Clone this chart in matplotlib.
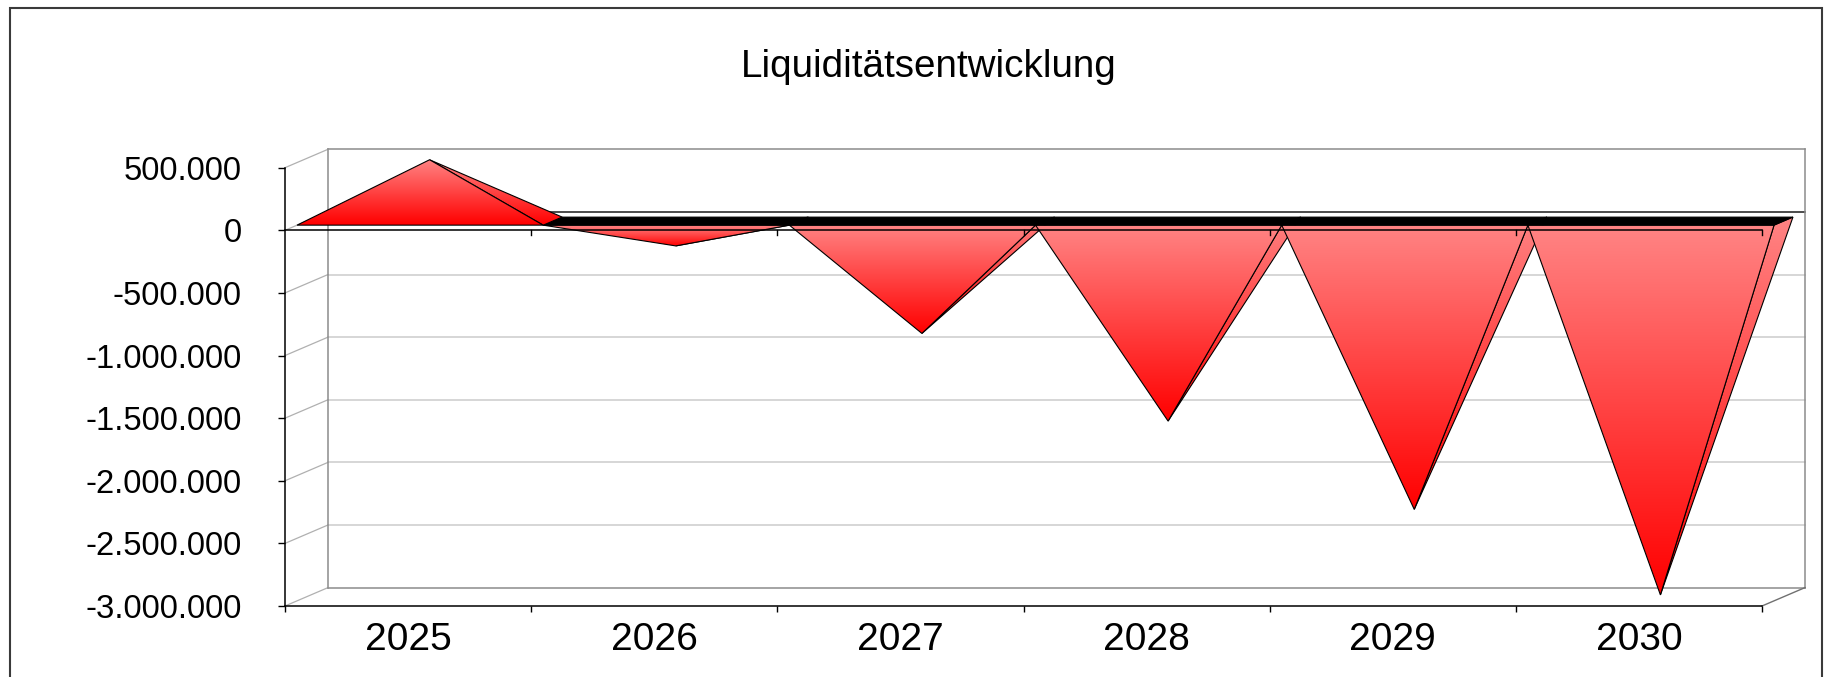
import numpy as np
import matplotlib
matplotlib.use('Agg')
import matplotlib.pyplot as plt
from matplotlib.patches import Polygon, Rectangle
from matplotlib.colors import LinearSegmentedColormap
from matplotlib.ticker import FuncFormatter, FixedLocator

years = ['2025', '2026', '2027', '2028', '2029', '2030']
liquidity = [490000, -198000, -897000, -1597000, -2302000, -2985000]
y_ticks = np.arange(-3000000, 500001, 500000)

plt.rcParams['font.family'] = ['Liberation Sans', 'DejaVu Sans']

W, H = 1829, 677
fig = plt.figure(figsize=(W / 100, H / 100), dpi=100)

# front plane of the 3d box (pixels)
x0, x1 = 285, 1762
y_top, y_bot = 167.7, 606
ax = fig.add_axes([x0 / W, (H - y_bot) / H, (x1 - x0) / W, (y_bot - y_top) / H])
n = len(years)
ymin, ymax = y_ticks[0], y_ticks[-1]

# depth of the box in data units
px_x = (x1 - x0) / n
px_y = (y_bot - y_top) / (ymax - ymin)
DX = 43 / px_x
DY = 18.4 / px_y

# back wall, side wall and floor edges
for v in y_ticks:
    if v in (ymin, ymax):
        col = '#8c8c8c'
    elif v == 0:
        col = '#1a1a1a'
    else:
        col = '#cccccc'
    ax.plot([DX, n + DX], [v + DY, v + DY], color=col, lw=1.1, clip_on=False, zorder=1)
    ax.plot([0, DX], [v, v + DY], color='#b0b0b0', lw=0.9, clip_on=False, zorder=1)
ax.plot([DX, DX], [ymin + DY, ymax + DY], color='#8c8c8c', lw=1.1, clip_on=False, zorder=1)
ax.plot([n + DX, n + DX], [ymin + DY, ymax + DY], color='#8c8c8c', lw=1.1, clip_on=False, zorder=1)
ax.plot([n, n + DX], [ymin, ymin + DY], color='#707070', lw=1.0, clip_on=False, zorder=1)

shade = LinearSegmentedColormap.from_list('shade', ['#ff0000', '#ff8484'])
grad = np.linspace(0, 1, 256).reshape(-1, 1)


def shaded_face(verts, z):
    verts = np.asarray(verts)
    poly = Polygon(verts, closed=True, fc='none', ec='black', lw=0.8,
                   zorder=z + 0.05, clip_on=False)
    ax.add_patch(poly)
    im = ax.imshow(grad, cmap=shade, origin='lower', aspect='auto',
                   interpolation='bilinear', zorder=z,
                   extent=(verts[:, 0].min(), verts[:, 0].max(),
                           verts[:, 1].min(), verts[:, 1].max()))
    # faces reach past the front plane, so clip to the face only
    im.set_clip_box(fig.bbox)
    im.set_clip_path(poly)


# pyramids: base at zero, apex at the value
d1, d2 = 0.28, 0.72
for i, v in enumerate(liquidity):
    xl, xr, xc = i, i + 1, i + 0.5
    apex = (xc + 0.5 * DX, v + 0.5 * DY)
    fl = (xl + d1 * DX, d1 * DY)
    fr = (xr + d1 * DX, d1 * DY)
    bl = (xl + d2 * DX, d2 * DY)
    br = (xr + d2 * DX, d2 * DY)
    z = 5 if v > 0 else 3
    shaded_face([fr, br, apex], z)
    shaded_face([fl, fr, apex], z + 0.2)
    if v < 0:
        ax.add_patch(Polygon([fl, fr, br, bl], closed=True, fc='black', ec='black',
                             lw=0.7, zorder=4, clip_on=False))

ax.set_xlim(0, n)
ax.set_ylim(ymin, ymax)

# category axis at zero, drawn over the pyramids
ax.plot([0, n], [0, 0], color='black', lw=1.1, zorder=6, clip_on=False)
for xb in range(1, n + 1):
    ax.plot([xb, xb], [0, -5 / px_y], color='black', lw=1.0, zorder=6, clip_on=False)

for s in ('top', 'right'):
    ax.spines[s].set_visible(False)
for s in ('left', 'bottom'):
    ax.spines[s].set_color('black')
    ax.spines[s].set_linewidth(1.1)
ax.patch.set_visible(False)

ax.yaxis.set_major_locator(FixedLocator(y_ticks))
ax.yaxis.set_major_formatter(FuncFormatter(lambda v, p: f'{int(round(v)):,}'.replace(',', '.')))
ax.tick_params(axis='y', direction='out', length=5, width=1, pad=26, labelsize=23.6)

ax.xaxis.set_major_locator(FixedLocator(np.arange(n + 1)))
ax.xaxis.set_major_formatter(FuncFormatter(lambda v, p: ''))
ax.xaxis.set_minor_locator(FixedLocator(np.arange(n) + 0.5))
ax.set_xticklabels(years, minor=True)
ax.tick_params(axis='x', which='major', direction='out', length=4.5, width=1)
ax.tick_params(axis='x', which='minor', length=0, pad=11.5, labelsize=28)

fig.text(929 / W, 1 - 77.4 / H, 'Liquiditätsentwicklung', ha='center', va='baseline',
         fontsize=27.8)

fig.add_artist(Rectangle((10 / W, -0.05), (1822 - 10) / W, (H - 8) / H + 0.05,
                         transform=fig.transFigure, fill=False, ec='#3a3a3a', lw=1.5))

fig.savefig('out.png', dpi=100)
